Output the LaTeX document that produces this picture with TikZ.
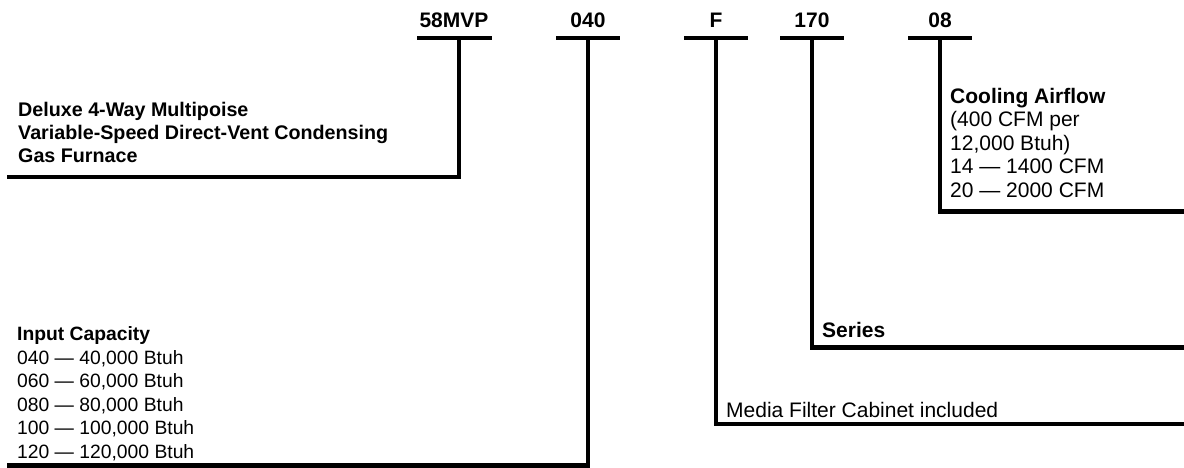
\documentclass[tikz,border=0pt]{standalone}
\usepackage{fontspec}
\setmainfont{Liberation Sans}
\begin{document}
\begin{tikzpicture}[x=1pt,y=-1pt,
  code/.style={font=\fontsize{21}{23.5}\selectfont\bfseries, inner sep=0pt, anchor=base},
  txt/.style={font=\fontsize{21}{23.5}\selectfont, align=left, inner sep=0pt, anchor=base west},
  ln/.style={line width=4.5pt, line join=miter}]
\useasboundingbox (0,0) rectangle (1184,468);

% code labels
\node[code] (c1) at (454,28) {58MVP};
\node[code] (c2) at (588,28) {040};
\node[code] (c3) at (716,28) {F};
\node[code] (c4) at (812,28) {170};
\node[code] (c5) at (940,28) {08};

% bar coordinates
\coordinate (b1l) at (417,38); \coordinate (b1r) at (492,38); \coordinate (b1m) at (459,38);
\coordinate (b2l) at (556,38); \coordinate (b2r) at (620,38); \coordinate (b2m) at (588,38);
\coordinate (b3l) at (684,38); \coordinate (b3r) at (748,38); \coordinate (b3m) at (716,38);
\coordinate (b4l) at (780,38); \coordinate (b4r) at (844,38); \coordinate (b4m) at (812,38);
\coordinate (b5l) at (908,38); \coordinate (b5r) at (972,38); \coordinate (b5m) at (940,38);

% line ends
\coordinate (e1) at (7,177);
\coordinate (e2) at (7,465.5);
\coordinate (e3) at (1184,424);
\coordinate (e4) at (1184,347.5);
\coordinate (e5) at (1184,211.5);

% descriptions (base anchor = last line's baseline)
\node[txt, font=\fontsize{19.7}{23.5}\selectfont\bfseries] (d1) at (18,163)
  {Deluxe 4-Way Multipoise\\Variable-Speed Direct-Vent Condensing\\Gas Furnace};
\node[txt, font=\fontsize{19.3}{23.5}\selectfont] (d2) at (17,458)
  {\textbf{Input Capacity}\\040 — 40,000 Btuh\\060 — 60,000 Btuh\\080 — 80,000 Btuh\\100 — 100,000 Btuh\\120 — 120,000 Btuh};
\node[txt] (d3) at (726,417) {Media Filter Cabinet included};
\node[txt, font=\fontsize{21}{23.5}\selectfont\bfseries] (d4) at (822,337) {Series};
\node[txt] (d5) at (950,197)
  {\textbf{Cooling Airflow}\\(400 CFM per\\12,000 Btuh)\\14 — 1400 CFM\\20 — 2000 CFM};

% bars and leaders
\draw[ln] (b1l) -- (b1r);
\draw[ln] (b2l) -- (b2r);
\draw[ln] (b3l) -- (b3r);
\draw[ln] (b4l) -- (b4r);
\draw[ln] (b5l) -- (b5r);
\draw[ln] (b1m) |- (e1);
\draw[ln] (b2m) |- (e2);
\draw[ln] (b3m) |- (e3);
\draw[ln] (b4m) |- (e4);
\draw[ln] (b5m) |- (e5);
\end{tikzpicture}
\end{document}
